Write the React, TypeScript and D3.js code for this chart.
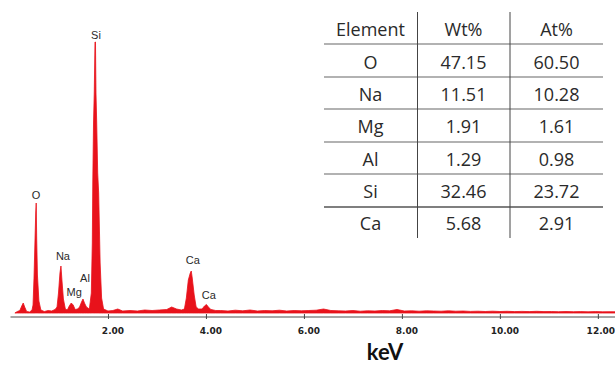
import React, { useEffect, useRef } from 'react';
import * as d3 from 'd3';

// spectrum: [keV, counts]
const spectrum: [number, number][] = [
  [0.1, 0], [0.15, 15], [0.2, 25], [0.24, 70], [0.27, 100], [0.3, 60], [0.34, 15], [0.4, 10], [0.45, 30],
  [0.47, 80], [0.49, 350], [0.51, 720], [0.525, 1000], [0.535, 1100], [0.545, 740], [0.56, 380], [0.59, 120], [0.63, 30],
  [0.7, 15], [0.78, 25], [0.85, 20], [0.92, 35],
  [0.96, 60], [0.99, 200], [1.02, 400], [1.04, 470], [1.06, 330], [1.09, 140], [1.13, 40],
  [1.17, 30], [1.21, 70], [1.25, 100], [1.29, 80], [1.33, 35], [1.38, 40],
  [1.42, 60], [1.46, 110], [1.49, 140], [1.52, 100], [1.56, 60],
  [1.62, 40], [1.66, 200], [1.68, 700], [1.69, 1300], [1.705, 1900], [1.72, 2200], [1.735, 2710], [1.745, 2710],
  [1.755, 2200], [1.77, 1900], [1.79, 1400], [1.81, 1200], [1.84, 500], [1.87, 150], [1.91, 40],
  [2.0, 20], [2.1, 25], [2.2, 40], [2.3, 20], [2.45, 25], [2.6, 20], [2.75, 30], [2.9, 25], [3.05, 30], [3.2, 35], [3.3, 60], [3.4, 40], [3.5, 30],
  [3.56, 40], [3.6, 150], [3.64, 330], [3.68, 400], [3.7, 420], [3.72, 350], [3.76, 180], [3.8, 60], [3.85, 40],
  [3.92, 40], [3.97, 70], [4.01, 85], [4.05, 60], [4.1, 35], [4.2, 25],
  [4.3, 25], [4.45, 20], [4.6, 28], [4.75, 22], [4.9, 30], [5.05, 20], [5.2, 25], [5.35, 22], [5.5, 28], [5.65, 20],
  [5.8, 25], [5.95, 22], [6.1, 25], [6.25, 28], [6.4, 40], [6.55, 25], [6.7, 22], [6.85, 20], [7.0, 25], [7.15, 18],
  [7.3, 22], [7.45, 20], [7.6, 25], [7.75, 22], [7.9, 35], [8.05, 20], [8.2, 22], [8.35, 18], [8.5, 22], [8.65, 20],
  [8.8, 18], [8.95, 22], [9.1, 18], [9.25, 20], [9.4, 16], [9.55, 18], [9.7, 15], [9.85, 18], [10.0, 15], [10.15, 17],
  [10.3, 14], [10.45, 16], [10.6, 14], [10.75, 17], [10.9, 14], [11.05, 15], [11.2, 13], [11.35, 15], [11.5, 13],
  [11.65, 14], [11.8, 12], [11.95, 14], [12.1, 12], [12.25, 13], [12.35, 12],
];

const peakNames = ['O', 'Na', 'Mg', 'Al', 'Si', 'Ca', 'Ca'];
const peakLabelKeV = [0.53, 1.08, 1.31, 1.53, 1.755, 3.73, 4.06];
const peakLabelCounts = [1140, 530, 170, 310, 2740, 490, 140];

const xTicks = [2, 4, 6, 8, 10, 12];

const tableHeader = ['Element', 'Wt%', 'At%'];
const elements = ['O', 'Na', 'Mg', 'Al', 'Si', 'Ca'];
const wtPct = ['47.15', '11.51', '1.91', '1.29', '32.46', '5.68'];
const atPct = ['60.50', '10.28', '1.61', '0.98', '23.72', '2.91'];

const W = 615;
const H = 367;

const App = () => {
  const ref = useRef<SVGSVGElement>(null);

  useEffect(() => {
    const svg = d3.select(ref.current);
    svg.selectAll('*').remove();

    const x = d3.scaleLinear().domain([0, 12.35]).range([10, 615]);
    const y = d3.scaleLinear().domain([0, 2750]).range([313, 38]);

    svg.append('rect').attr('width', W).attr('height', H).attr('fill', '#fff');

    // spectrum
    const area = d3.area<[number, number]>()
      .x(d => x(d[0]))
      .y0(y(0))
      .y1(d => y(d[1]));

    svg.append('path')
      .datum(spectrum)
      .attr('d', area)
      .attr('fill', '#e8121b')
      .attr('stroke', '#e8121b')
      .attr('stroke-width', 0.8);

    // peak labels
    svg.append('g')
      .selectAll('text')
      .data(peakNames)
      .enter().append('text')
      .attr('x', (d, i) => x(peakLabelKeV[i]))
      .attr('y', (d, i) => y(peakLabelCounts[i]))
      .attr('text-anchor', 'middle')
      .style('font-family', 'Liberation Sans, Arial, sans-serif')
      .style('font-size', '11px')
      .style('fill', '#2a2a2a')
      .text(d => d);

    // x axis
    const xAxis = d3.axisBottom(x)
      .tickValues(xTicks)
      .tickFormat(d3.format('.2f'))
      .tickSizeInner(2.5)
      .tickSizeOuter(0);

    const gx = svg.append('g')
      .attr('transform', 'translate(0,316.5)')
      .call(xAxis);
    gx.select('.domain').attr('stroke', '#888').attr('stroke-width', 1.5);
    gx.selectAll('.tick line').attr('y1', -2.5).attr('stroke', '#444');
    gx.selectAll<SVGTextElement, number>('.tick text')
      .attr('x', d => (d === 12 ? 2.5 : 4.5))
      .attr('y', 17.5)
      .attr('dy', 0)
      .style('font-family', 'DejaVu Sans, sans-serif')
      .style('font-weight', 'bold')
      .style('font-size', '9px')
      .style('fill', '#222');

    svg.append('text')
      .attr('x', 385)
      .attr('y', 360)
      .attr('text-anchor', 'middle')
      .style('font-family', 'Lato, sans-serif')
      .style('font-weight', 'bold')
      .style('font-size', '22px')
      .style('fill', '#111')
      .text('keV');

    // table
    const colX = [370.5, 463.5, 556.5];
    const rowY = [36, 68.5, 101, 133, 165.5, 198, 230];
    const hLines = [44, 77, 109, 142, 174, 207];
    const t = svg.append('g');

    hLines.forEach((hy, i) => {
      t.append('line')
        .attr('x1', 324).attr('x2', 603)
        .attr('y1', hy).attr('y2', hy)
        .attr('stroke', i === hLines.length - 1 ? '#555' : '#999')
        .attr('stroke-width', i === hLines.length - 1 ? 1.6 : 1.3);
    });
    [417.5, 510].forEach(vx => {
      t.append('line')
        .attr('x1', vx).attr('x2', vx)
        .attr('y1', 12).attr('y2', 238)
        .attr('stroke', '#444')
        .attr('stroke-width', 1);
    });

    const rows = [tableHeader, ...elements.map((e, i) => [e, wtPct[i], atPct[i]])];
    rows.forEach((row, r) => {
      row.forEach((cell, c) => {
        t.append('text')
          .attr('x', colX[c])
          .attr('y', rowY[r])
          .attr('text-anchor', 'middle')
          .style('font-family', 'Open Sans, sans-serif')
          .style('font-size', '18px')
          .style('fill', '#2a2a2a')
          .text(cell);
      });
    });
  }, []);

  return (
    <svg
      ref={ref}
      width={W}
      height={H}
      style={{ position: 'absolute', left: 0, top: 0, display: 'block' }}
    />
  );
};

export default App;
